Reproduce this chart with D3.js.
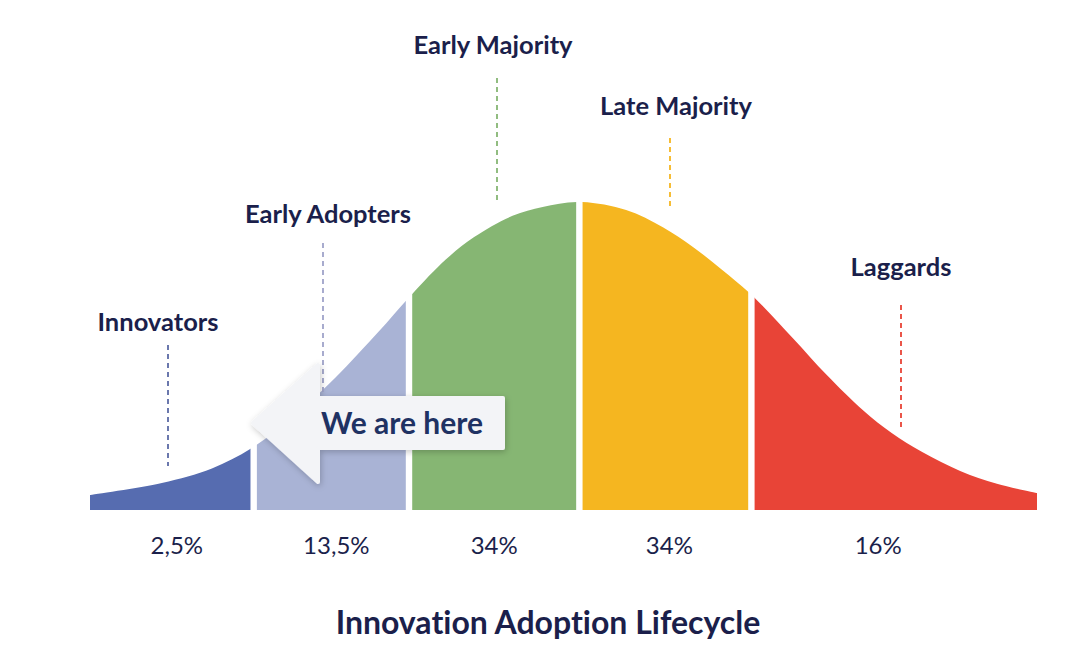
<!DOCTYPE html>
<html>
<head>
<meta charset="utf-8">
<script src="https://cdn.jsdelivr.net/npm/d3@7"></script>
<style>
  body { margin: 0; background: #fff; }
  svg { display: block; }
  text { font-family: Lato, "Noto Sans", sans-serif; font-variant-ligatures: none; }
</style>
</head>
<body>
<div id="chart"></div>
<script>
// segments of the adoption curve
const categories = ["Innovators", "Early Adopters", "Early Majority", "Late Majority", "Laggards"];
const shares = [2.5, 13.5, 34, 34, 16];
// segment edges, in standard deviations from the mean
const boundaries = [-2.93, -1.95, -1.02, 0, 1.03, 2.74];

// bell curve (x in sd, height relative to peak)
const curveX = [-2.93, -2.5, -2.2, -1.95, -1.7, -1.46, -1.2, -1.02, -0.8, -0.63, -0.4, -0.22, 0,
                0.28, 0.5, 0.68, 0.85, 1.03, 1.28, 1.48, 1.7, 1.87, 2.05, 2.28, 2.5, 2.74];
const curveY = [0.049, 0.088, 0.135, 0.205, 0.309, 0.43, 0.58, 0.69, 0.813, 0.886, 0.955, 0.984, 1,
                0.974, 0.918, 0.854, 0.782, 0.699, 0.557, 0.439, 0.323, 0.25, 0.189, 0.127, 0.085, 0.055];

const colors = ["#566cb0", "#a9b3d5", "#86b673", "#f5b620", "#e84437"];
const dashColors = ["#5b6aa5", "#9fa3c9", "#86b673", "#f5b620", "#e84437"];

// label + leader line placement (layout only)
const labelPos = [
  { tx: 158, ty: 331, lx: 168, y1: 345, y2: 466 },
  { tx: 328, ty: 223, lx: 323, y1: 243, y2: 395 },
  { tx: 493, ty: 54,  lx: 497, y1: 78,  y2: 200 },
  { tx: 676, ty: 115, lx: 670, y1: 138, y2: 207 },
  { tx: 901, ty: 276, lx: 901, y1: 305, y2: 430 }
];
const pctOffset = [5, 5, 0, 4, -16];

const W = 1080, H = 672;
const navy = "#1b1f4b";

const svg = d3.select("#chart").append("svg")
    .attr("width", W)
    .attr("height", H);

const defs = svg.append("defs");
const f = defs.append("filter").attr("id", "shadow")
    .attr("x", "-20%").attr("y", "-20%").attr("width", "140%").attr("height", "150%");
f.append("feDropShadow")
    .attr("dx", 1).attr("dy", 2).attr("stdDeviation", 3)
    .attr("flood-color", "#000").attr("flood-opacity", 0.22);

const x = d3.scaleLinear().domain([boundaries[0], boundaries[5]]).range([90, 1037]);
const y = d3.scaleLinear().domain([0, 1]).range([510, 202]);

const pts = curveX.map((v, i) => [v, curveY[i]]);
const area = d3.area()
    .x(d => x(d[0]))
    .y0(y(0))
    .y1(d => y(d[1]))
    .curve(d3.curveCatmullRom.alpha(0.5));

const gap = 3.2;
categories.forEach((c, i) => {
    const x0 = x(boundaries[i]) + (i > 0 ? gap : 0);
    const x1 = x(boundaries[i + 1]) - (i < categories.length - 1 ? gap : 0);
    defs.append("clipPath").attr("id", "seg" + i)
        .append("rect")
        .attr("x", x0).attr("y", 0)
        .attr("width", x1 - x0).attr("height", y(0));
    svg.append("path")
        .datum(pts)
        .attr("d", area)
        .attr("fill", colors[i])
        .attr("clip-path", `url(#seg${i})`);
});

// leader lines
svg.selectAll(".lead")
    .data(labelPos)
    .enter()
    .append("line")
    .attr("class", "lead")
    .attr("x1", d => d.lx).attr("x2", d => d.lx)
    .attr("y1", d => d.y1).attr("y2", d => d.y2)
    .attr("stroke", (d, i) => dashColors[i])
    .attr("stroke-width", 1.8)
    .attr("stroke-dasharray", "5,4");

// category names
svg.selectAll(".cat")
    .data(categories)
    .enter()
    .append("text")
    .attr("class", "cat")
    .attr("x", (d, i) => labelPos[i].tx)
    .attr("y", (d, i) => labelPos[i].ty)
    .attr("text-anchor", "middle")
    .attr("font-size", 25.5)
    .attr("font-weight", 700)
    .attr("fill", navy)
    .text(d => d);

// percentages
const fmt = v => String(v).replace(".", ",") + "%";
svg.selectAll(".pct")
    .data(shares)
    .enter()
    .append("text")
    .attr("class", "pct")
    .attr("x", (d, i) => (x(boundaries[i]) + x(boundaries[i + 1])) / 2 + pctOffset[i])
    .attr("y", 554)
    .attr("text-anchor", "middle")
    .attr("font-size", 24)
    .attr("fill", navy)
    .text(fmt);

// "We are here" arrow
const arrow = svg.append("g");
arrow.append("path")
    .attr("d", "M253,423 L318,365 L318,398 L503,398 L503,448 L318,448 L318,482 Z")
    .attr("fill", "#f3f4f7")
    .attr("stroke", "#f3f4f7")
    .attr("stroke-width", 4)
    .attr("stroke-linejoin", "round")
    .attr("filter", "url(#shadow)");
arrow.append("text")
    .attr("x", 402)
    .attr("y", 434)
    .attr("text-anchor", "middle")
    .attr("font-size", 30)
    .attr("font-weight", 700)
    .attr("fill", "#1f3263")
    .text("We are here");

// title
svg.append("text")
    .attr("x", 548)
    .attr("y", 634)
    .attr("text-anchor", "middle")
    .attr("font-size", 32)
    .attr("font-weight", 700)
    .attr("fill", navy)
    .text("Innovation Adoption Lifecycle");
</script>
</body>
</html>
